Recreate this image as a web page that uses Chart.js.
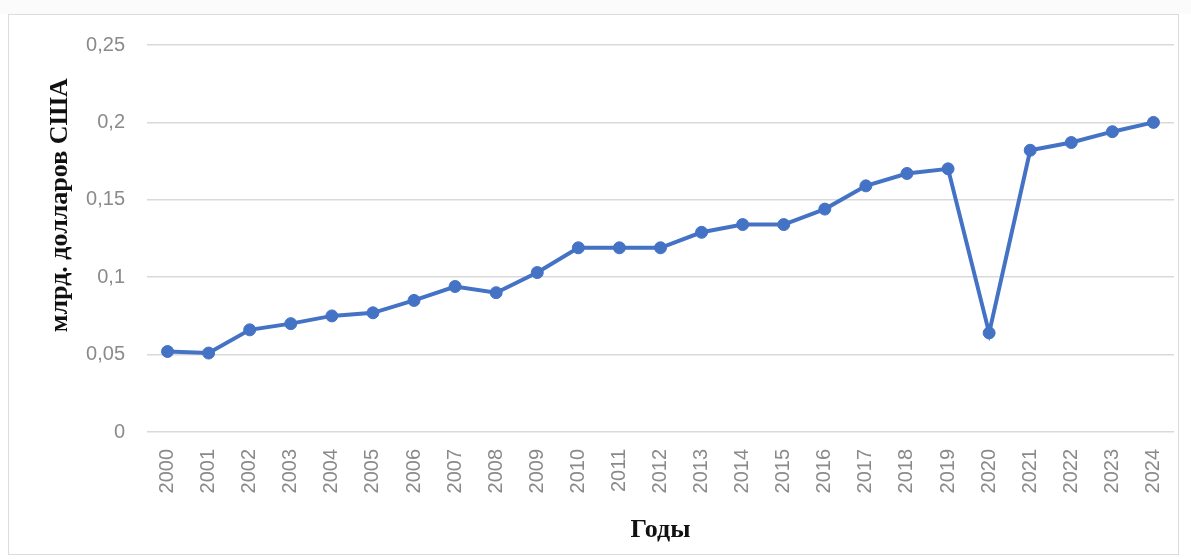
<!DOCTYPE html>
<html lang="ru">
<head>
<meta charset="utf-8">
<title>млрд. долларов США</title>
<script src="https://cdn.jsdelivr.net/npm/chart.js"></script>
<style>
  html, body { margin: 0; padding: 0; background: #ffffff; }
  #wrap { position: relative; width: 1191px; height: 559px; overflow: hidden; }
  #frame { position: absolute; left: 8px; top: 14px; width: 1171px; height: 541px; border: 1px solid #dcdcdc; box-sizing: border-box; }
  #topband { position: absolute; left: 0; top: 0; width: 1191px; height: 14px; background: #fbfbfb; }
  canvas { position: absolute; left: 0; top: 0; }
</style>
</head>
<body>
<div id="wrap">
  <div id="topband"></div>
  <div id="frame"></div>
  <canvas id="c" width="1191" height="559"></canvas>
</div>
<script>
const years = ['2000','2001','2002','2003','2004','2005','2006','2007','2008','2009','2010','2011','2012','2013','2014','2015','2016','2017','2018','2019','2020','2021','2022','2023','2024'];
const values = [0.052, 0.051, 0.066, 0.070, 0.075, 0.077, 0.085, 0.094, 0.090, 0.103, 0.119, 0.119, 0.119, 0.129, 0.134, 0.134, 0.144, 0.159, 0.167, 0.170, 0.064, 0.182, 0.187, 0.194, 0.200];
const yTickValues = [0, 0.05, 0.1, 0.15, 0.2, 0.25];
const yTickLabels = ['0', '0,05', '0,1', '0,15', '0,2', '0,25'];
const yTitle = 'млрд. долларов США';
const xTitle = 'Годы';

const yTitlePlugin = {
  id: 'yTitlePlugin',
  afterDraw(chart) {
    const ctx = chart.ctx;
    const area = chart.chartArea;
    ctx.save();
    ctx.font = 'bold 26px "Liberation Serif", "Times New Roman", serif';
    ctx.fillStyle = '#111111';
    ctx.textAlign = 'center';
    ctx.textBaseline = 'middle';
    ctx.translate(60, area.top + (area.bottom - area.top) * 0.414);
    ctx.rotate(-Math.PI / 2);
    ctx.fillText(yTitle, 0, 0);
    ctx.restore();
  }
};

new Chart(document.getElementById('c'), {
  type: 'line',
  data: {
    labels: years,
    datasets: [{
      data: values,
      borderColor: '#4472C4',
      backgroundColor: '#4472C4',
      borderWidth: 4,
      pointRadius: 6,
      pointBackgroundColor: '#4472C4',
      pointBorderColor: '#4472C4',
      pointBorderWidth: 1,
      tension: 0,
      fill: false
    }]
  },
  options: {
    responsive: false,
    animation: false,
    layout: { padding: { top: 45, right: 17, bottom: 0, left: 0 } },
    plugins: {
      legend: { display: false },
      tooltip: { enabled: false },
      title: { display: false }
    },
    scales: {
      x: {
        offset: true,
        grid: { display: false, drawTicks: false },
        border: { display: false },
        ticks: {
          minRotation: 90,
          maxRotation: 90,
          padding: 17,
          color: '#8a8a8a',
          font: { family: '"Liberation Sans", Arial, sans-serif', size: 20 }
        },
        title: {
          display: true,
          text: xTitle,
          color: '#111111',
          font: { family: '"Liberation Serif", "Times New Roman", serif', size: 26, weight: 'bold' },
          padding: { top: 0, bottom: 13 }
        },
        afterFit(scale) { scale.height = 127; scale.paddingRight = 0; scale.paddingLeft = 0; }
      },
      y: {
        min: 0,
        max: 0.25,
        afterBuildTicks(scale) { scale.ticks = yTickValues.map(v => ({ value: v })); },
        grid: { color: '#d9d9d9', lineWidth: 1.5, drawTicks: false },
        border: { display: false },
        ticks: {
          padding: 22,
          color: '#8a8a8a',
          font: { family: '"Liberation Sans", Arial, sans-serif', size: 20 },
          callback(value) {
            const i = yTickValues.findIndex(v => Math.abs(v - value) < 1e-9);
            return i >= 0 ? yTickLabels[i] : '';
          }
        },
        afterFit(scale) { scale.width = 147; }
      }
    }
  },
  plugins: [yTitlePlugin]
});
</script>
</body>
</html>
